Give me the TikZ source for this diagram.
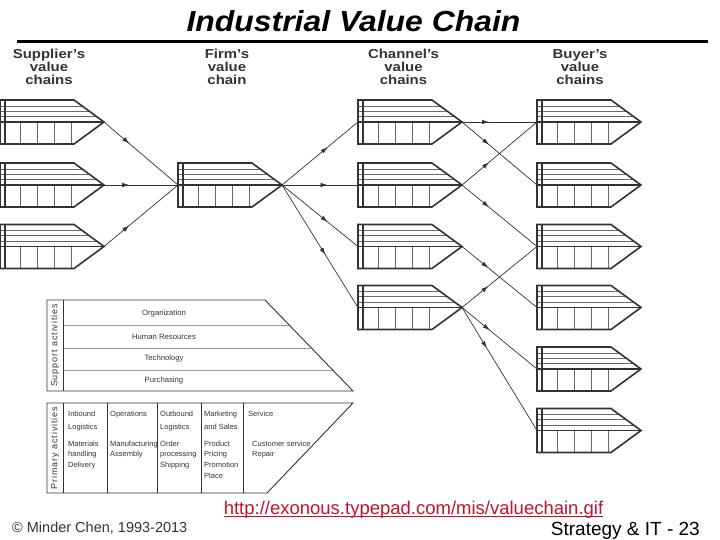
\documentclass[tikz,border=0pt]{standalone}
\usepackage{fontspec}
\setmainfont{Liberation Sans}
\newfontfamily\titlefont[FakeStretch=1.1]{Liberation Sans}
\newfontfamily\hdrfont[FakeStretch=1.15]{Liberation Sans}
\newfontfamily\sidefont[LetterSpace=10]{Liberation Sans}
\usetikzlibrary{arrows.meta,decorations.markings}
\definecolor{ink}{HTML}{333333}
\definecolor{thinc}{HTML}{6A6A6A}
\definecolor{urlred}{RGB}{200,16,46}
% value chain icon: name, left x, middle y
\newcommand\vchain[3]{%
  \coordinate (#1-l) at (#2,#3);
  \coordinate (#1-t) at ({#2+104},#3);
  \foreach \d in {16,11,5.5} {\draw[thinl] (#2,{#3-\d}) -- ({#2+74+30*(22-\d)/22},{#3-\d});}
  \foreach \dx in {20,37,54,71} {\draw[thinl] ({#2+\dx},#3) -- ({#2+\dx},{#3+22});}
  \draw[outl] ({#2+5},{#3-22}) -- ({#2+5},{#3+22});
  \draw[outl] (#1-l) -- (#1-t);
  \draw[outl,line join=miter] (#2,{#3-22}) -- ++(74,0) -- ++(30,22) -- ++(-30,22) -- ++(-74,0) -- cycle;
}
\begin{document}
\begin{tikzpicture}[x=1pt,y=-1pt,
  outl/.style={draw=ink,line width=1.6pt},
  thinl/.style={draw=thinc,line width=0.7pt},
  flow/.style={draw=ink,line width=0.7pt,postaction={decorate},
    decoration={markings,mark=at position #1 with {\arrow{Latex[length=7pt,width=4.5pt]}}}},
  hdr/.style={anchor=base,inner sep=0pt,text=ink,font=\hdrfont\bfseries\fontsize{13}{13}\selectfont},
  sup/.style={inner sep=0pt,text=ink,font=\fontsize{7.7}{9}\selectfont},
  cellh/.style={anchor=north west,inner sep=0pt,align=left,text=ink,font=\fontsize{7.5}{13}\selectfont},
  celld/.style={anchor=north west,inner sep=0pt,align=left,text=ink,font=\fontsize{7.5}{10.7}\selectfont},
  side/.style={inner sep=0pt,rotate=90,text=ink,font=\sidefont\fontsize{9}{9}\selectfont},
  boxl/.style={draw=ink,line width=0.9pt},
  rowl/.style={draw=thinc!70,line width=0.6pt}]
\useasboundingbox (0,0) rectangle (720,540);
% title
\node[anchor=base,inner sep=0pt,font=\titlefont\bfseries\itshape\fontsize{29}{29}\selectfont] (title) at (353.5,31.5) {Industrial Value Chain};
\draw[line width=3.5pt] (17,41.5) coordinate (r1) -- (708,41.5) coordinate (r2);
% headers
\node[hdr] (hs1) at (49,59) {Supplier’s};
\node[hdr] (hs2) at (49,72) {value};
\node[hdr] (hs3) at (49,85) {chains};
\node[hdr] (hf1) at (227,59) {Firm’s};
\node[hdr] (hf2) at (227,72) {value};
\node[hdr] (hf3) at (227,85) {chain};
\node[hdr] (hc1) at (403.5,59) {Channel’s};
\node[hdr] (hc2) at (403.5,72) {value};
\node[hdr] (hc3) at (403.5,85) {chains};
\node[hdr] (hb1) at (580,59) {Buyer’s};
\node[hdr] (hb2) at (580,72) {value};
\node[hdr] (hb3) at (580,85) {chains};
% chains
\vchain{s1}{0}{122}
\vchain{s2}{0}{185}
\vchain{s3}{0}{246.5}
\vchain{f}{178}{185}
\vchain{c1}{358}{122}
\vchain{c2}{358}{185}
\vchain{c3}{358}{246.5}
\vchain{c4}{358}{307.5}
\vchain{b1}{537}{122}
\vchain{b2}{537}{185}
\vchain{b3}{537}{246.5}
\vchain{b4}{537}{307.5}
\vchain{b5}{537}{369}
\vchain{b6}{537}{430.5}
% connectors
\draw[flow=0.34] (s1-t) -- (f-l);
\draw[flow=0.34] (s2-t) -- (f-l);
\draw[flow=0.34] (s3-t) -- (f-l);
\draw[flow=0.6] (f-t) -- (c1-l);
\draw[flow=0.6] (f-t) -- (c2-l);
\draw[flow=0.6] (f-t) -- (c3-l);
\draw[flow=0.57] (f-t) -- (c4-l);
\draw[flow=0.36] (c1-t) -- (b1-l);
\draw[flow=0.36] (c1-t) -- (b2-l);
\draw[flow=0.36] (c2-t) -- (b1-l);
\draw[flow=0.36] (c2-t) -- (b3-l);
\draw[flow=0.35] (c3-t) -- (b4-l);
\draw[flow=0.35] (c4-t) -- (b3-l);
\draw[flow=0.37] (c4-t) -- (b5-l);
\draw[flow=0.33] (c4-t) -- (b6-l);
% support activities
\foreach \yy in {325,348,370} {\draw[rowl] (63,\yy) -- ({265+(\yy-300)*88/91},\yy);}
\draw[boxl] (47,300) -- (265,300) -- (353,391) -- (47,391) -- cycle;
\draw[boxl] (63,300) -- (63,391);
\node[side] (sa) at (55,345.5) {Support activities};
\node[sup] (t1) at (164,314) {Organization};
\node[sup] (t2) at (164,337) {Human Resources};
\node[sup] (t3) at (164,359) {Technology};
\node[sup] (t4) at (164,380.5) {Purchasing};
% primary activities
\draw[boxl] (47,403) -- (353,403) -- (267,493) -- (47,493) -- cycle;
\foreach \xx in {63,107,157,201,243} {\draw[boxl] (\xx,403) -- (\xx,493);}
\node[side] (pa) at (55,448) {Primary activities};
\node[cellh] (p1) at (68,410.6) {Inbound\\Logistics};
\node[cellh] (p2) at (110,410.6) {Operations};
\node[cellh] (p3) at (160,410.6) {Outbound\\Logistics};
\node[cellh] (p4) at (204,410.6) {Marketing\\and Sales};
\node[cellh] (p5) at (248,410.6) {Service};
\node[celld] (d1) at (68,440.6) {Materials\\handling\\Delivery};
\node[celld] (d2) at (110,440.6) {Manufacturing\\Assembly};
\node[celld] (d3) at (160,440.6) {Order\\processing\\Shipping};
\node[celld] (d4) at (204,440.6) {Product\\Pricing\\Promotion\\Place};
\node[celld] (d5) at (252,440.6) {Customer service\\Repair};
% footer
\node[anchor=base,inner sep=0pt,text=urlred,font=\fontsize{18.5}{18.5}\selectfont] (url) at (413.5,514) {http://exonous.typepad.com/mis/valuechain.gif};
\draw[urlred,line width=0.8pt] ([yshift=-2.5pt]url.base west) -- ([yshift=-2.5pt]url.base east);
\node[anchor=base west,inner sep=0pt,text=ink,font=\fontsize{14.5}{14.5}\selectfont] (copy) at (12,532) {© Minder Chen, 1993-2013};
\node[anchor=base east,inner sep=0pt,text=black,font=\fontsize{19}{19}\selectfont] (pg) at (700,535) {Strategy \& IT - 23};
\end{tikzpicture}
\end{document}
